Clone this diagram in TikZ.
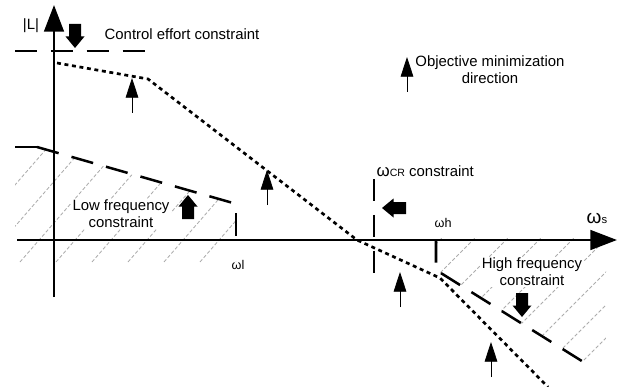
\documentclass[tikz,border=0pt]{standalone}
\usepackage{fontspec}
\setmainfont{Liberation Sans}
\usetikzlibrary{arrows.meta}

\tikzset{
  axis/.style={line width=2pt, -{Triangle[length=19pt,width=14pt]}},
  cline/.style={line width=1.8pt, dash pattern=on 16pt off 9.5pt},
  loopgain/.style={line width=1.9pt, dash pattern=on 2.8pt off 2.6pt},
  objarrow/.style={line width=0.6pt, -{Triangle[length=14pt,width=9pt]}},
  hatch/.style={gray!65, line width=0.6pt, dash pattern=on 2.5pt off 1.5pt},
  lbl/.style={font=\fontsize{10.6}{12}\selectfont, inner sep=1pt},
  blockarrow/.pic={
    \fill (0,0) -- (-11.5,9.5) -- (-11.5,6) -- (-24,6) -- (-24,-6)
      -- (-11.5,-6) -- (-11.5,-9.5) -- cycle;
  }
}

\begin{document}
\begin{tikzpicture}[x=0.025cm, y=-0.025cm]
  \useasboundingbox (0,0) rectangle (632,387);

  % skravering: lavfrekvent område
  \begin{scope}
    \clip (15,147) -- (37,147) -- (236,205) -- (236,262) -- (15,262) -- cycle;
    \foreach \x in {-160,-124,...,250}
      \draw[hatch] (\x,262) -- ++(120,-138);
  \end{scope}

  % skravering: høyfrekvent område
  \begin{scope}
    \clip (436,237) -- (606,237) -- (606,350) -- (585,363) -- (436,270) -- cycle;
    \foreach \x in {300,333,...,620}
      \draw[hatch] (\x,380) -- ++(160,-160);
  \end{scope}

  % akser
  \draw[axis] (17,240) -- (617,240);
  \draw[axis] (54,297) -- (54,5);

  % begrensninger
  \draw[cline] (15,51) -- (147,51);
  \draw[cline] (15,147) -- (37,147);
  \draw[cline] (37,147) -- (233,203);
  \draw[cline, dash phase=19.8pt] (236,205) -- (236,240);
  \draw[cline] (374,179) -- (374,274);
  \draw[cline] (436,240) -- (436,270) -- (585,363);

  % sløyfeforsterkning |L|
  \draw[loopgain] (57,63) -- (148,79) -- (357,240) -- (440,278) -- (548,387);

  % retning for minimering av objektivet
  \foreach \x/\y in {132/78, 267/170, 400/272, 491/342, 407/57}
    \draw[objarrow] (\x,\y+35) -- (\x,\y);

  % blokkpiler
  \pic[rotate=-90] at (75,48) {blockarrow};
  \pic[rotate=90] at (188,195) {blockarrow};
  \pic[rotate=-90] at (522,317) {blockarrow};
  \pic[rotate=180] at (382,208) {blockarrow};

  % tekster
  \node[lbl] (ylab) at (31,26) {|L|};
  \node[lbl, anchor=base west] (ctrl) at (103,40) {Control effort constraint};
  \node[lbl, align=center] (obj) at (490,70) {Objective minimization\\direction};
  \node[lbl, align=center, fill=white] (lowtxt) at (121,214) {Low frequency\\constraint};
  \node[lbl, align=center, fill=white] (hightxt) at (532,272) {High frequency\\constraint};
  \node[lbl, anchor=base west] (crtxt) at (375,176)
    {{\fontsize{12}{12}\selectfont ω}{\fontsize{7.5}{8}\selectfont CR} constraint};
  \node[lbl, anchor=base west] (wh) at (433,227) {\fontsize{9}{9}\selectfont ωh};
  \node[lbl, anchor=base west] (ws) at (585,223)
    {{\fontsize{13.5}{13.5}\selectfont ω}{\fontsize{8}{8}\selectfont s}};
  \node[lbl, anchor=base west] (wl) at (230,269) {\fontsize{9}{9}\selectfont ωl};
\end{tikzpicture}
\end{document}
